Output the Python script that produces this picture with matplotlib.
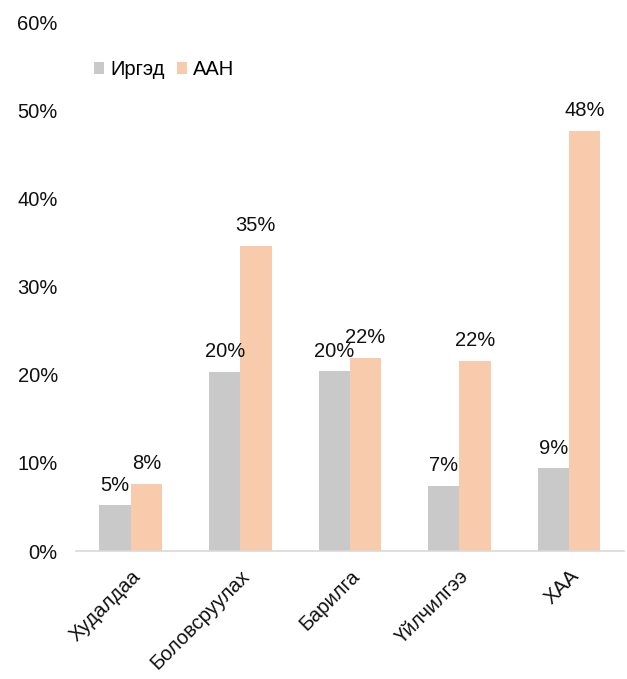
import matplotlib.pyplot as plt
import numpy as np

plt.rcParams['font.family'] = ['Liberation Sans', 'DejaVu Sans']

categories = ["Худалдаа", "Боловсруулах", "Барилга", "Үйлчилгээ", "ХАА"]
irged = [5.2, 20.3, 20.4, 7.4, 9.4]
aan = [7.6, 34.6, 21.9, 21.6, 47.7]
series_names = ["Иргэд", "ААН"]

grey = "#C9C9C9"
orange = "#F8CBAD"
fs = 14.5

fig = plt.figure(figsize=(6.27, 6.79), dpi=100)
ax = fig.add_axes([0.121, 0.1885, 0.874, 0.779])

x = np.arange(len(categories))
w = 0.285
b1 = ax.bar(x - w/2, irged, w, color=grey, label=series_names[0])
b2 = ax.bar(x + w/2, aan, w, color=orange, label=series_names[1])

for bars, vals in [(b1, irged), (b2, aan)]:
    for r, v in zip(bars, vals):
        ax.text(r.get_x() + r.get_width()/2, v + 1.2, "%d%%" % round(v),
                ha="center", va="bottom", fontsize=fs, color="#111111")

ax.set_xlim(-0.5, len(categories) - 0.5)
ax.set_ylim(0, 60)
ax.set_yticks(np.arange(0, 61, 10))
ax.set_yticklabels(["%d%%" % t for t in range(0, 61, 10)])
ax.set_xticks(x)
ax.set_xticklabels(categories, rotation=45, ha="right", rotation_mode="anchor")

for s in ["top", "right", "left"]:
    ax.spines[s].set_visible(False)
ax.spines["bottom"].set_color("#D9D9D9")
ax.spines["bottom"].set_linewidth(1.2)
ax.tick_params(axis="both", length=0, labelsize=fs, colors="#111111")
ax.tick_params(axis="y", pad=13)
ax.tick_params(axis="x", pad=11)

ax.legend(loc="upper left", bbox_to_anchor=(0.0, 0.962), frameon=False,
          fontsize=fs, handlelength=0.5, handleheight=0.5,
          handletextpad=0.3, columnspacing=0.6, ncol=2)

fig.savefig("out.png", dpi=100)
